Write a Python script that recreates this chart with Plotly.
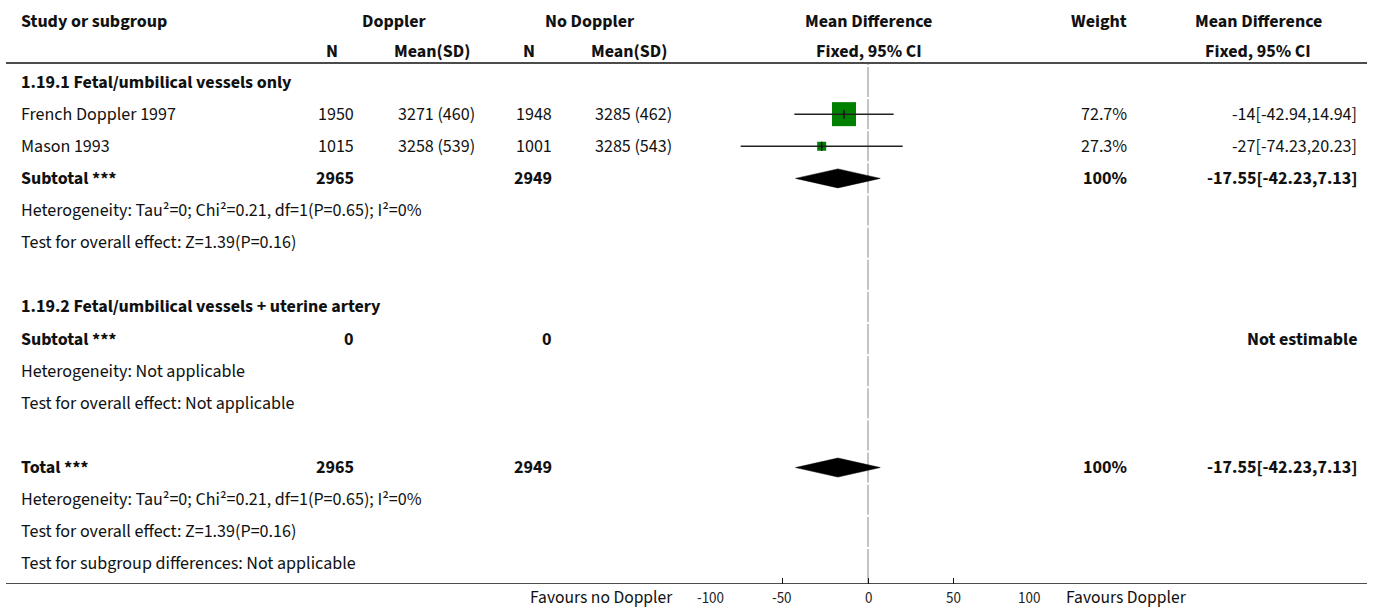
import plotly.graph_objects as go

W, H = 1373, 611

# ---------------- data ----------------
studies = ["French Doppler 1997", "Mason 1993"]
n_dop = [1950, 1015]
mean_dop = [3271, 3258]
sd_dop = [460, 539]
n_nodop = [1948, 1001]
mean_nodop = [3285, 3285]
sd_nodop = [462, 543]
md = [-14, -27]
ci_lo = [-42.94, -74.23]
ci_hi = [14.94, 20.23]
weights = [72.7, 27.3]

sub_n_dop = 2965
sub_n_nodop = 2949
pooled_md = -17.55
pooled_lo = -42.23
pooled_hi = 7.13

tick_vals = [-100, -50, 0, 50, 100]
tick_text = ["-100", "-50", "0", "50", "100"]

# ---------------- layout helpers ----------------
FONT = "'Source Sans Pro', 'Source Sans 3', Lato, sans-serif"
FS = 18
TXT = "#111111"

ROW_PX0 = 82.0
ROW_H = 32.13
AXIS_PX = 584.0
y_top = -ROW_PX0 / ROW_H
y_bot = (AXIS_PX - ROW_PX0) / ROW_H


def r_of(px):
    return (px - ROW_PX0) / ROW_H


def X(px):
    return px / W


annotations = []


def txt(px, row, s, anchor="left", bold=False, size=FS, color=TXT, yref="y", xref="paper"):
    annotations.append(dict(
        x=(X(px) if xref == "paper" else px), y=row, xref=xref, yref=yref,
        text=(f"<b>{s}</b>" if bold else s),
        showarrow=False, xanchor=anchor, yanchor="middle", borderpad=0, borderwidth=0,
        font=dict(family=FONT, size=size, color=color)))


LEFT = 21
N1, M1, N2, M2 = 354, 475, 552, 672
WGT = 1127
MDR = 1357
PLOT_C = 869
MD_HDR_C = 1258

# headers
hr1, hr2 = r_of(21), r_of(51)
txt(LEFT, hr1, "Study or subgroup", bold=True)
txt(394, hr1, "Doppler", "center", bold=True)
txt(590, hr1, "No Doppler", "center", bold=True)
txt(PLOT_C, hr1, "Mean Difference", "center", bold=True)
txt(WGT, hr1, "Weight", "right", bold=True)
txt(MD_HDR_C, hr1, "Mean Difference", "center", bold=True)
txt(332, hr2, "N", "center", bold=True)
txt(M1 - 5, hr2, "Mean(SD)", "right", bold=True)
txt(529, hr2, "N", "center", bold=True)
txt(M2 - 5, hr2, "Mean(SD)", "right", bold=True)
txt(PLOT_C, hr2, "Fixed, 95% CI", "center", bold=True)
txt(MD_HDR_C, hr2, "Fixed, 95% CI", "center", bold=True)

# group 1
txt(LEFT, 0, "1.19.1 Fetal/umbilical vessels only", bold=True)
study_rows = [1, 2]
for i, r in enumerate(study_rows):
    txt(LEFT, r, studies[i])
    txt(N1, r, str(n_dop[i]), "right")
    txt(M1, r, f"{mean_dop[i]} ({sd_dop[i]})", "right")
    txt(N2, r, str(n_nodop[i]), "right")
    txt(M2, r, f"{mean_nodop[i]} ({sd_nodop[i]})", "right")
    txt(WGT, r, f"{weights[i]}%", "right")
    txt(MDR, r, f"{md[i]:g}[{ci_lo[i]:g},{ci_hi[i]:g}]", "right")

het = "Heterogeneity: Tau²=0; Chi²=0.21, df=1(P=0.65); I²=0%"
ovr = "Test for overall effect: Z=1.39(P=0.16)"
pooled_txt = f"{pooled_md:g}[{pooled_lo:g},{pooled_hi:g}]"

for r, label in [(3, "Subtotal ***"), (12, "Total ***")]:
    txt(LEFT, r, label, bold=True)
    txt(N1, r, str(sub_n_dop), "right", bold=True)
    txt(N2, r, str(sub_n_nodop), "right", bold=True)
    txt(WGT, r, "100%", "right", bold=True)
    txt(MDR, r, pooled_txt, "right", bold=True)
txt(LEFT, 4, het)
txt(LEFT, 5, ovr)

# group 2
txt(LEFT, 7, "1.19.2 Fetal/umbilical vessels + uterine artery", bold=True)
txt(LEFT, 8, "Subtotal ***", bold=True)
txt(N1, 8, "0", "right", bold=True)
txt(N2, 8, "0", "right", bold=True)
txt(MDR, 8, "Not estimable", "right", bold=True)
txt(LEFT, 9, "Heterogeneity: Not applicable")
txt(LEFT, 10, "Test for overall effect: Not applicable")

txt(LEFT, 13, het)
txt(LEFT, 14, ovr)
txt(LEFT, 15, "Test for subgroup differences: Not applicable")

# favours labels and tick labels (below the axis, paper y)
fy = (H - 597.5) / H
txt(673, fy, "Favours no Doppler", "right", size=17.5, yref="paper")
txt(1066, fy, "Favours Doppler", "left", size=17.5, yref="paper")
ty_lab = (H - 598) / H
for k, (v, t) in enumerate(zip(tick_vals, tick_text)):
    anc = "left" if k == 0 else ("right" if k == len(tick_vals) - 1 else "center")
    txt(v, ty_lab, t, anc, size=15, color="#222222", yref="paper", xref="x")

fig = go.Figure()

# zero line, drawn per row with small gaps
gap = 1.0 / ROW_H
zx, zy = [], []
bounds = [r_of(63)] + [k + 0.5 for k in range(-1, 15)] + [y_bot]
bounds = sorted(set([b for b in bounds if b >= r_of(63)]))
for a, b in zip(bounds[:-1], bounds[1:]):
    zx += [0, 0, None]
    zy += [a + gap, b - gap, None]
fig.add_trace(go.Scatter(x=zx, y=zy, mode="lines", line=dict(color="#8a8a8a", width=1),
                         hoverinfo="skip", showlegend=False))

# study boxes
box_px = [24, 9]
fig.add_trace(go.Scatter(x=md, y=study_rows, mode="markers",
                         marker=dict(symbol="square", size=box_px, color="#008000",
                                     opacity=1, line=dict(width=0)),
                         hoverinfo="skip", showlegend=False))

# CI lines
cx, cy = [], []
for i, r in enumerate(study_rows):
    cx += [ci_lo[i], ci_hi[i], None]
    cy += [r, r, None]
fig.add_trace(go.Scatter(x=cx, y=cy, mode="lines", line=dict(color="#222222", width=1.5),
                         hoverinfo="skip", showlegend=False))

# point-estimate ticks
th = 4.5 / ROW_H
tx, ty = [], []
for i, r in enumerate(study_rows):
    tx += [md[i], md[i], None]
    ty += [r - th, r + th, None]
fig.add_trace(go.Scatter(x=tx, y=ty, mode="lines", line=dict(color="#111111", width=1.5),
                         hoverinfo="skip", showlegend=False))

# diamonds
dh = 9.5 / ROW_H
for r in [3, 12]:
    fig.add_trace(go.Scatter(
        x=[pooled_lo, pooled_md, pooled_hi, pooled_md, pooled_lo],
        y=[r, r - dh, r, r + dh, r],
        mode="lines", fill="toself", fillcolor="#000000",
        line=dict(color="#000000", width=0.5), hoverinfo="skip", showlegend=False))

shapes = [
    dict(type="line", xref="paper", yref="y", x0=X(6), x1=X(1367), y0=r_of(63), y1=r_of(63),
         line=dict(color="#111111", width=1.5)),
    dict(type="line", xref="paper", yref="y", x0=X(6), x1=X(1367), y0=y_bot, y1=y_bot,
         line=dict(color="#111111", width=1.5)),
]

fig.update_layout(
    width=W, height=H,
    margin=dict(l=0, r=0, t=0, b=0),
    paper_bgcolor="white", plot_bgcolor="rgba(0,0,0,0)",
    showlegend=False,
    annotations=annotations,
    shapes=shapes,
    xaxis=dict(domain=[696.5 / W, 1039.5 / W], range=[-100, 100], tickvals=tick_vals,
               ticks="inside", ticklen=6, tickcolor="#111111", showticklabels=False,
               showline=False, showgrid=False, zeroline=False, fixedrange=True),
    yaxis=dict(domain=[(H - AXIS_PX) / H, 1], range=[y_bot, y_top], visible=False,
               fixedrange=True),
)

fig.write_html("out.html", config={"displayModeBar": False},
               post_script="document.body.style.margin='0';document.body.style.overflow='hidden';")
